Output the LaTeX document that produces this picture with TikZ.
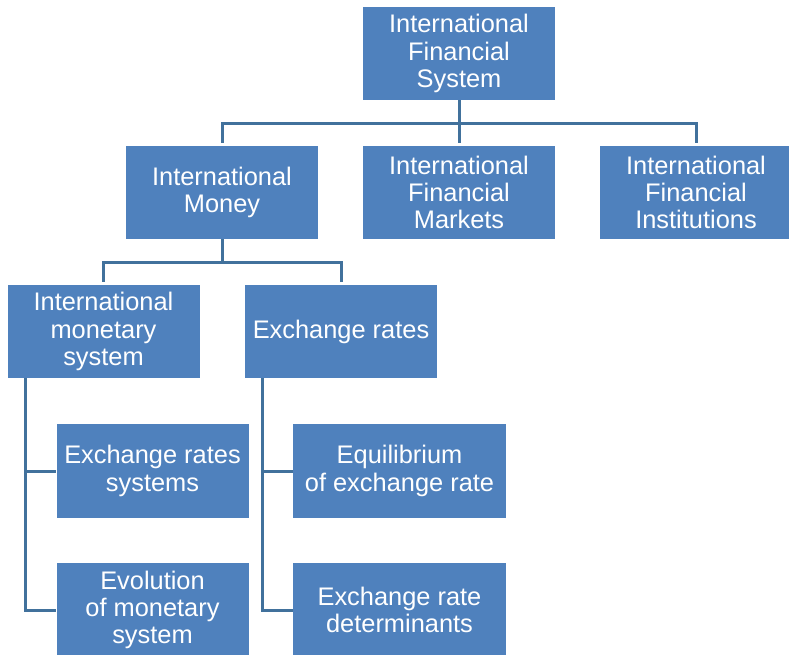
\documentclass[tikz,border=0pt]{standalone}
\usepackage{fontspec}
\setmainfont{Liberation Sans}
\usepackage{tikz}
\definecolor{boxblue}{HTML}{4F81BD}
\definecolor{lineblue}{HTML}{41719C}
\tikzset{
  topic/.style={rectangle, fill=boxblue, text=white, align=center, inner sep=0pt,
    minimum width=192pt, minimum height=93pt, font=\fontsize{25.4}{27.2}\selectfont},
  wide/.style={topic, minimum width=213pt},
  conn/.style={draw=lineblue, line width=3pt}
}
\begin{document}
\begin{tikzpicture}[x=1pt,y=-1pt]
  \useasboundingbox (0,0) rectangle (789,654);
  \begin{scope}
  \clip (0,0) rectangle (789,654);
  % boxes
  \node[topic] (sys) at (459,53.5) {International\\Financial\\System};
  \node[topic] (money) at (222,192.5) {International\\Money};
  \node[topic] (markets) at (459,192.5) {International\\Financial\\Markets};
  \node[topic] (inst) at (696,192.5) {International\\Financial\\Institutions};
  \node[topic] (ims) at (103.5,331.5) {International\\monetary\\system};
  \node[topic] (rates) at (341,331.5) {Exchange rates};
  \node[topic, minimum height=94pt] (ers) at (152.5,471) {Exchange rates\\systems};
  \node[topic, minimum height=94pt] (evo) at (152.5,610) {Evolution\\of monetary\\system};
  \node[wide, minimum height=94pt] (equil) at (399.5,471) {Equilibrium\\of exchange rate};
  \node[wide, minimum height=94pt] (determ) at (399.5,610) {Exchange rate\\determinants};
  % connectors
  \coordinate (busA) at (459,123);
  \coordinate (busB) at (222,262);
  \coordinate (imsL) at (25,378);
  \coordinate (ratesL) at (262,378);
  \draw[conn] (sys.south) -- (busA);
  \draw[conn, shorten >=3pt] (busA) -| (money.north);
  \draw[conn, shorten >=3pt] (busA) -- (markets.north);
  \draw[conn, shorten >=3pt] (busA) -| (inst.north);
  \draw[conn] (money.south) -- (busB);
  \draw[conn, shorten >=3pt] (busB) -| (ims.north);
  \draw[conn, shorten >=3pt] (busB) -| (rates.north);
  \draw[conn] (imsL) |- (evo.west);
  \draw[conn] (imsL |- ers.west) -- (ers.west);
  \draw[conn] (ratesL) |- (determ.west);
  \draw[conn] (ratesL |- equil.west) -- (equil.west);
  \end{scope}
\end{tikzpicture}
\end{document}
